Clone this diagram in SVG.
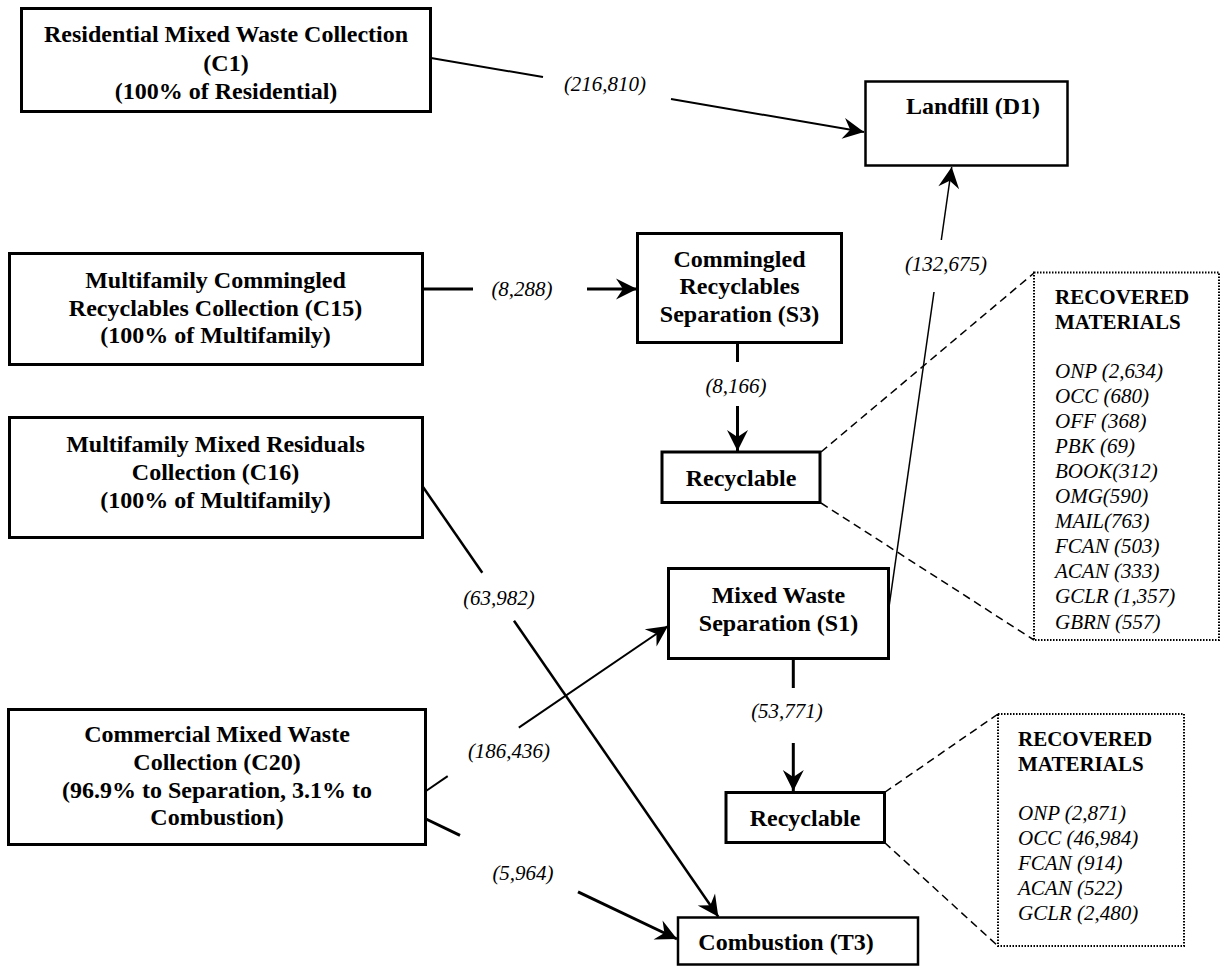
<svg xmlns="http://www.w3.org/2000/svg" width="1228" height="968" viewBox="0 0 1228 968">
  <style>
    .box { fill: #fff; stroke: #000; stroke-width: 3; }
    .thin { fill: #fff; stroke: #000; stroke-width: 2.5; }
    .dot { fill: #fff; stroke: #000; stroke-width: 2; stroke-dasharray: 1.5 1.5; }
    .nb { font-family: "Liberation Serif", "Times New Roman", serif; font-weight: bold; font-size: 24px; text-anchor: middle; fill: #000; }
    .lbl { font-family: "Liberation Serif", "Times New Roman", serif; font-style: italic; font-size: 21px; text-anchor: middle; fill: #000; }
    .mh { font-family: "Liberation Serif", "Times New Roman", serif; font-weight: bold; font-size: 21px; fill: #000; }
    .mi { font-family: "Liberation Serif", "Times New Roman", serif; font-style: italic; font-size: 21px; fill: #000; }
    .flow { fill: none; stroke: #000; }
    .dash { fill: none; stroke: #000; stroke-width: 1.5; stroke-dasharray: 8 5; }
  </style>
  <defs>
    <marker id="ah" markerUnits="userSpaceOnUse" markerWidth="26" markerHeight="26" viewBox="-22 -13 26 26" refX="0" refY="0" orient="auto">
      <path d="M0,0 L-21,-10.5 L-14,0 L-21,10.5 Z" fill="#000"/>
    </marker>
  </defs>

  <rect width="1228" height="968" fill="#fff"/>

  <!-- collection nodes -->
  <g id="c1">
    <rect class="box" x="21.5" y="8.5" width="409" height="103"/>
    <text class="nb"><tspan x="226" y="42">Residential Mixed Waste Collection</tspan><tspan x="226" y="71">(C1)</tspan><tspan x="226" y="99">(100% of Residential)</tspan></text>
  </g>
  <g id="c15">
    <rect class="box" x="9.5" y="253.5" width="413" height="111"/>
    <text class="nb"><tspan x="215.5" y="288">Multifamily Commingled</tspan><tspan x="215.5" y="316">Recyclables Collection (C15)</tspan><tspan x="215.5" y="343">(100% of Multifamily)</tspan></text>
  </g>
  <g id="c16">
    <rect class="box" x="9.5" y="417.5" width="413" height="120"/>
    <text class="nb"><tspan x="215.5" y="452">Multifamily Mixed Residuals</tspan><tspan x="215.5" y="480">Collection (C16)</tspan><tspan x="215.5" y="508">(100% of Multifamily)</tspan></text>
  </g>
  <g id="c20">
    <rect class="box" x="8.5" y="709.5" width="417" height="135"/>
    <text class="nb"><tspan x="217" y="742">Commercial Mixed Waste</tspan><tspan x="217" y="770">Collection (C20)</tspan><tspan x="217" y="798">(96.9% to Separation, 3.1% to</tspan><tspan x="217" y="825">Combustion)</tspan></text>
  </g>

  <!-- separation, disposal and combustion nodes -->
  <g id="d1">
    <rect class="thin" x="865.5" y="81.5" width="202" height="84"/>
    <text class="nb" x="973" y="114">Landfill (D1)</text>
  </g>
  <g id="s3">
    <rect class="box" x="637.5" y="233.5" width="204" height="109"/>
    <text class="nb"><tspan x="739.5" y="267">Commingled</tspan><tspan x="739.5" y="294">Recyclables</tspan><tspan x="739.5" y="322">Separation (S3)</tspan></text>
  </g>
  <g id="r1">
    <rect class="box" x="662" y="452" width="158" height="50.5"/>
    <text class="nb" x="741" y="486">Recyclable</text>
  </g>
  <g id="s1">
    <rect class="box" x="668.5" y="568.5" width="220" height="90"/>
    <text class="nb"><tspan x="778.5" y="603">Mixed Waste</tspan><tspan x="778.5" y="631">Separation (S1)</tspan></text>
  </g>
  <g id="r2">
    <rect class="box" x="726" y="792.5" width="158.5" height="50"/>
    <text class="nb" x="805" y="826">Recyclable</text>
  </g>
  <g id="t3">
    <rect class="thin" x="678" y="917.5" width="240" height="47"/>
    <text class="nb" x="786" y="950">Combustion (T3)</text>
  </g>

  <!-- recovered material lists -->
  <g id="m1">
    <rect class="dot" x="1034" y="272.5" width="185" height="367.5"/>
    <text class="mh"><tspan x="1055" y="304">RECOVERED</tspan><tspan x="1055" y="328.5">MATERIALS</tspan></text>
    <text class="mi">
      <tspan x="1055" y="377.5">ONP (2,634)</tspan>
      <tspan x="1055" y="402.6">OCC (680)</tspan>
      <tspan x="1055" y="427.7">OFF (368)</tspan>
      <tspan x="1055" y="452.8">PBK (69)</tspan>
      <tspan x="1055" y="477.9">BOOK(312)</tspan>
      <tspan x="1055" y="503">OMG(590)</tspan>
      <tspan x="1055" y="528.1">MAIL(763)</tspan>
      <tspan x="1055" y="553.2">FCAN (503)</tspan>
      <tspan x="1055" y="578.3">ACAN (333)</tspan>
      <tspan x="1055" y="603.4">GCLR (1,357)</tspan>
      <tspan x="1055" y="628.5">GBRN (557)</tspan>
    </text>
  </g>
  <g id="m2">
    <rect class="dot" x="998" y="714" width="186" height="232"/>
    <text class="mh"><tspan x="1018" y="746">RECOVERED</tspan><tspan x="1018" y="770.5">MATERIALS</tspan></text>
    <text class="mi">
      <tspan x="1018" y="820">ONP (2,871)</tspan>
      <tspan x="1018" y="845">OCC (46,984)</tspan>
      <tspan x="1018" y="870">FCAN (914)</tspan>
      <tspan x="1018" y="895">ACAN (522)</tspan>
      <tspan x="1018" y="920">GCLR (2,480)</tspan>
    </text>
  </g>

  <!-- flows with their tonnage labels -->
  <g id="connectors">
    <path class="flow" stroke-width="2" d="M431,58 L543,77"/>
    <path class="flow" stroke-width="2" d="M671,99 L864,132" marker-end="url(#ah)"/>
    <text class="lbl" x="605" y="91">(216,810)</text>

    <path class="flow" stroke-width="3" d="M424,289 L473,289"/>
    <path class="flow" stroke-width="3" d="M587,289 L637,289" marker-end="url(#ah)"/>
    <text class="lbl" x="522" y="296">(8,288)</text>

    <path class="flow" stroke-width="3" d="M737.5,344 L737.5,362"/>
    <path class="flow" stroke-width="3" d="M737.5,406 L737.5,451" marker-end="url(#ah)"/>
    <text class="lbl" x="736" y="393">(8,166)</text>

    <path class="flow" stroke-width="1.5" d="M889,607 L934,292"/>
    <path class="flow" stroke-width="1.5" d="M941.3,240 L951.7,167" marker-end="url(#ah)"/>
    <text class="lbl" x="946" y="271">(132,675)</text>

    <path class="flow" stroke-width="2.5" d="M423,487 L482.3,572.7"/>
    <path class="flow" stroke-width="2.5" d="M514,620.7 L718.3,916.7" marker-end="url(#ah)"/>
    <text class="lbl" x="499" y="605">(63,982)</text>

    <path class="flow" stroke-width="2" d="M426,791 L447.7,776.2"/>
    <path class="flow" stroke-width="2" d="M518.8,727.7 L668,626" marker-end="url(#ah)"/>
    <text class="lbl" x="509" y="758">(186,436)</text>

    <path class="flow" stroke-width="3" d="M426,819 L460,835.3"/>
    <path class="flow" stroke-width="3" d="M578,891.8 L677,939" marker-end="url(#ah)"/>
    <text class="lbl" x="523" y="880">(5,964)</text>

    <path class="flow" stroke-width="3" d="M793.3,660 L793.3,688"/>
    <path class="flow" stroke-width="3" d="M793.3,743 L793.3,791" marker-end="url(#ah)"/>
    <text class="lbl" x="787" y="718">(53,771)</text>

    <path class="dash" d="M821,452 L1034,273"/>
    <path class="dash" d="M821,503 L1034,640"/>
    <path class="dash" d="M884.5,792.5 L998,714"/>
    <path class="dash" d="M884.5,842.5 L998,946"/>
  </g>
</svg>
